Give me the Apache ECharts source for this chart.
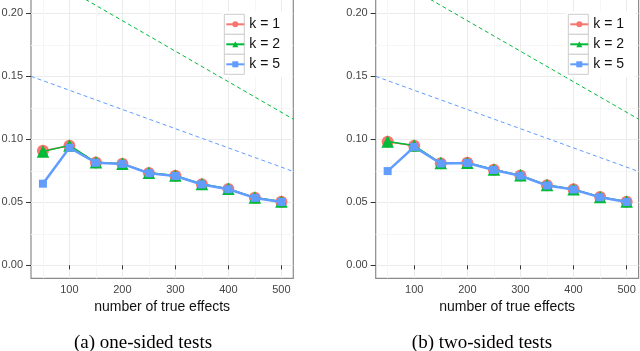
<!DOCTYPE html>
<html><head><meta charset="utf-8">
<script src="https://cdn.jsdelivr.net/npm/echarts@6/dist/echarts.min.js"></script>
<style>html,body{margin:0;padding:0;background:#fff}#c{width:640px;height:351px}</style>
</head><body><div id="c"></div>
<script>
// ---- data ----
const xValues = [50, 100, 150, 200, 250, 300, 350, 400, 450, 500];
const xTicks = [100, 200, 300, 400, 500];
const yTicks = [0, 0.05, 0.10, 0.15, 0.20];
const seriesNames = ['k = 1', 'k = 2', 'k = 5'];

const oneSidedK1 = [0.0909, 0.0949, 0.0816, 0.0806, 0.0733, 0.0711, 0.0644, 0.0606, 0.0537, 0.0505];
const oneSidedK2 = [0.0903, 0.0952, 0.0818, 0.0807, 0.0734, 0.0712, 0.0645, 0.0607, 0.0538, 0.0506];
const oneSidedK5 = [0.0648, 0.0933, 0.0814, 0.0805, 0.0731, 0.0709, 0.0642, 0.0604, 0.0535, 0.0503];

const twoSidedK1 = [0.0981, 0.0949, 0.0810, 0.0814, 0.0759, 0.0713, 0.0635, 0.0603, 0.0542, 0.0505];
const twoSidedK2 = [0.0982, 0.0951, 0.0812, 0.0815, 0.0760, 0.0714, 0.0637, 0.0604, 0.0543, 0.0506];
const twoSidedK5 = [0.0748, 0.0940, 0.0808, 0.0812, 0.0757, 0.0711, 0.0633, 0.0601, 0.0540, 0.0503];

// dashed reference lines (values at the x-range limits)
const refX = [27.5, 522.5];
const refGreen = [0.236, 0.116];
const refBlue = [0.150, 0.0745];

const captions = ['(a) one-sided tests', '(b) two-sided tests'];
const xTitle = 'number of true effects';

// ---- styling ----
const COLORS = ['#F8766D', '#00BA38', '#619CFF'];
const SYMBOLS = ['circle', 'triangle', 'rect'];
const SIZES = [12, 12.5, 8];
const LW = [1.5, 1.5, 2.5];
const FONT = 'Liberation Sans';
const X_MIN = 27.5, X_MAX = 522.5, Y_MIN = -0.0103, Y_MAX = 0.2163;

const grids = [
  {left: 31, top: -7.2, width: 262.3, height: 285.5},
  {left: 375.7, top: -7.2, width: 262.9, height: 285.5}
];

function xAxisCfg(i) {
  return {
    type: 'value', gridIndex: i, min: X_MIN, max: X_MAX,
    name: xTitle, nameLocation: 'middle', nameGap: 20,
    nameTextStyle: {fontFamily: FONT, fontSize: 14, color: '#111'},
    axisLine: {show: false},
    axisTick: {show: true, length: 4, customValues: xTicks, lineStyle: {color: '#333', width: 1}},
    axisLabel: {customValues: xTicks, margin: 6, fontFamily: FONT, fontSize: 11, color: '#444'},
    splitLine: {show: true, lineStyle: {color: '#ebebeb', width: 1}},
    minorTick: {show: false, splitNumber: 2},
    minorSplitLine: {show: true, lineStyle: {color: '#f6f6f6', width: 1}}
  };
}
function yAxisCfg(i) {
  return {
    type: 'value', gridIndex: i, min: Y_MIN, max: Y_MAX,
    axisLine: {show: false},
    axisTick: {show: true, length: 5, customValues: yTicks, lineStyle: {color: '#333', width: 1}},
    axisLabel: {customValues: yTicks, margin: 8, fontFamily: FONT, fontSize: 11, color: '#444',
      formatter: v => v.toFixed(2)},
    splitLine: {show: true, lineStyle: {color: '#ebebeb', width: 1}},
    minorTick: {show: false, splitNumber: 2},
    minorSplitLine: {show: true, lineStyle: {color: '#f6f6f6', width: 1}}
  };
}

const panelData = [[oneSidedK1, oneSidedK2, oneSidedK5], [twoSidedK1, twoSidedK2, twoSidedK5]];
const series = [];
panelData.forEach((sets, gi) => {
  series.push({
    name: 'ref green', type: 'line', xAxisIndex: gi, yAxisIndex: gi,
    data: refX.map((x, j) => [x, refGreen[j]]), showSymbol: false, symbol: 'none',
    lineStyle: {color: COLORS[1], width: 1, type: [4, 3]}, silent: true, z: 1
  });
  series.push({
    name: 'ref blue', type: 'line', xAxisIndex: gi, yAxisIndex: gi,
    data: refX.map((x, j) => [x, refBlue[j]]), showSymbol: false, symbol: 'none',
    lineStyle: {color: COLORS[2], width: 1, type: [4, 3]}, silent: true, z: 1
  });
  sets.forEach((vals, si) => {
    series.push({
      name: seriesNames[si], type: 'line', xAxisIndex: gi, yAxisIndex: gi,
      data: xValues.map((x, j) => [x, vals[j]]),
      symbol: SYMBOLS[si], symbolSize: SIZES[si], showSymbol: true,
      itemStyle: {color: COLORS[si]},
      lineStyle: {color: COLORS[si], width: LW[si]},
      z: 2 + si * 0.1, animation: false
    });
  });
});

function legendCfg(left) {
  return {
    data: seriesNames, orient: 'vertical', left: left, top: 14.3,
    itemWidth: 18, itemHeight: 7.5, itemGap: 0, itemTextGap: 8.4, padding: 0,
    selectedMode: false, z: 5,
    textStyle: {fontFamily: FONT, fontSize: 14, lineHeight: 20, color: '#111'}
  };
}

function legendBoxes(x0) {
  const els = [{type: 'rect', shape: {x: x0 - 3, y: 11.5, width: 70, height: 65.5}, style: {fill: '#fff'}, z: 3}];
  for (let i = 0; i < 3; i++) {
    els.push({type: 'rect', shape: {x: x0, y: 14.3 + 20 * i, width: 20, height: 20},
      style: {fill: '#fff', stroke: '#cccccc', lineWidth: 1}, z: 3});
  }
  return els;
}

const graphics = [].concat(legendBoxes(224.3), legendBoxes(568.3));
[143, 482].forEach((cx, i) => {
  graphics.push({type: 'text', x: cx, y: 343, z: 5,
    style: {text: captions[i], fontFamily: 'Liberation Serif', fontSize: 19, fill: '#000',
      textAlign: 'center', textVerticalAlign: 'middle'}});
});

const chart = echarts.init(document.getElementById('c'), null, {renderer: 'canvas'});
chart.setOption({
  animation: false,
  backgroundColor: '#fff',
  grid: grids.map(g => Object.assign({show: true, backgroundColor: '#fff', borderColor: '#8a8a8a',
    borderWidth: 1.2, containLabel: false, outerBoundsMode: 'none'}, g)),
  xAxis: [xAxisCfg(0), xAxisCfg(1)],
  yAxis: [yAxisCfg(0), yAxisCfg(1)],
  legend: [legendCfg(225.3), legendCfg(569.3)],
  series: series,
  graphic: graphics
});
</script>
</body></html>
